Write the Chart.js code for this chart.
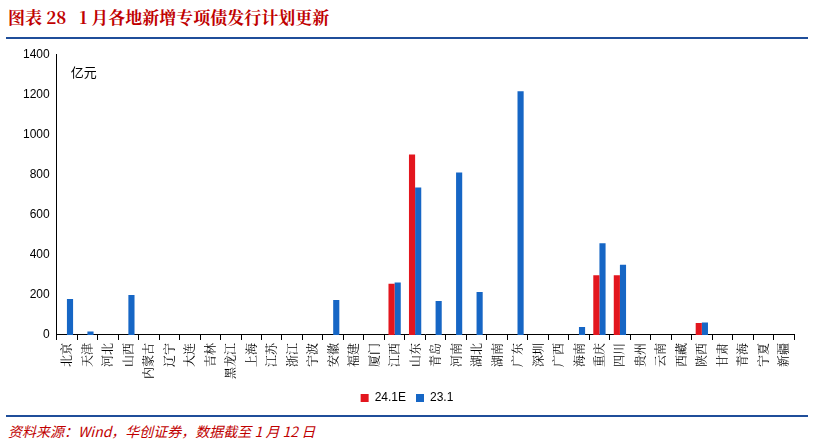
<!DOCTYPE html>
<html><head><meta charset="utf-8">
<script src="https://cdn.jsdelivr.net/npm/chart.js@4"></script>
<style>
body{margin:0;width:814px;height:445px;background:#fff;font-family:"Noto Sans CJK SC",sans-serif;position:relative;overflow:hidden}
#t{position:absolute;left:8px;top:4px;font-size:17px;font-weight:bold;color:#C00000;font-family:"Noto Serif CJK SC","Noto Sans CJK SC",serif}
#l1{position:absolute;left:6px;right:6px;top:37px;border-top:2px solid #1F4E9A}
#l2{position:absolute;left:6px;right:6px;top:415px;border-top:2px solid #1F4E9A}
#s{position:absolute;left:8px;top:421px;font-size:14px;font-style:italic;color:#C00000;font-family:"Noto Sans CJK SC",serif}
#c{position:absolute;left:0;top:44px;width:814px;height:370px}
</style></head><body>
<div id="t">图表 28&nbsp;&nbsp;&nbsp;1 月各地新增专项债发行计划更新</div>
<div id="l1"></div>
<div id="c"><canvas id="cv"></canvas></div>
<div id="l2"></div>
<div id="s">资料来源：Wind，华创证券，数据截至 1 月 12 日</div>
<script>
const categories=["北京","天津","河北","山西","内蒙古","辽宁","大连","吉林","黑龙江","上海","江苏","浙江","宁波","安徽","福建","厦门","江西","山东","青岛","河南","湖北","湖南","广东","深圳","广西","海南","重庆","四川","贵州","云南","西藏","陕西","甘肃","青海","宁夏","新疆"];
const s241E=[0,0,0,0,0,0,0,0,0,0,0,0,0,0,0,0,255,900,0,0,0,0,0,0,0,0,298,298,0,0,0,60,0,0,0,0];
const s231=[180,18,0,200,0,0,0,0,0,0,0,0,0,175,0,0,262,735,170,810,215,0,1215,0,0,40,458,350,0,0,0,62,0,0,0,0];
const yTicks=[0,200,400,600,800,1000,1200,1400];
new Chart(document.getElementById('cv'),{type:'bar',
data:{labels:categories,datasets:[
{label:'24.1E',data:s241E,backgroundColor:'#E3161E'},
{label:'23.1',data:s231,backgroundColor:'#1666C5'}]},
options:{responsive:true,maintainAspectRatio:false,animation:false,
layout:{padding:{left:20,right:20,top:8,bottom:0}},
datasets:{bar:{categoryPercentage:0.6,barPercentage:1}},
plugins:{legend:{position:'bottom',labels:{boxWidth:8,boxHeight:8,font:{size:12,family:'Liberation Sans'},color:'#000',padding:10}},tooltip:{enabled:false},
title:{display:false}},
scales:{x:{grid:{display:true,drawOnChartArea:false,offset:true,tickLength:5,color:'#000'},border:{color:'#000'},ticks:{color:'#000',font:{size:12,family:'Noto Serif CJK SC'},maxRotation:90,minRotation:90,autoSkip:false}},
y:{min:0,max:1400,afterBuildTicks:a=>{a.ticks=yTicks.map(v=>({value:v}))},grid:{display:false,tickLength:4},border:{color:'#000'},
ticks:{color:'#000',font:{size:12,family:'Liberation Sans'},callback:v=>String(v)}}}},
plugins:[{id:'u',afterDraw(c){const x=c.ctx;x.save();x.font='13px "Noto Sans CJK SC"';x.fillStyle='#000';x.fillText('亿元',c.chartArea.left+14,c.chartArea.top+18);x.restore();}}]
});
</script></body></html>
